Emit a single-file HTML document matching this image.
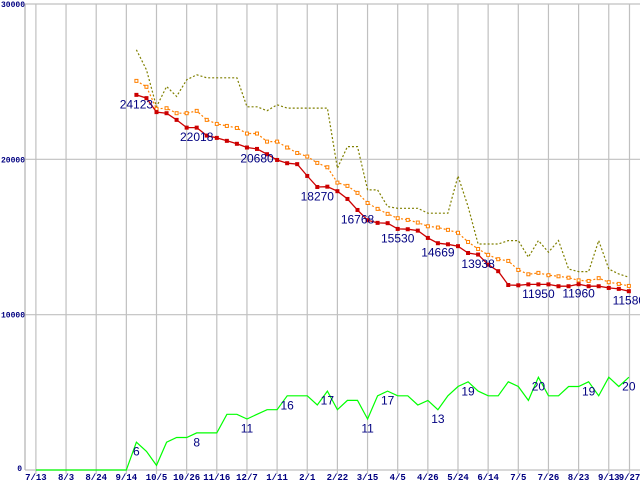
<!DOCTYPE html>
<html><head><meta charset="utf-8"><style>
html,body{margin:0;padding:0;background:#fff;}
svg{display:block;font-family:"Liberation Sans",sans-serif;}
</style></head><body>
<svg id="chart" width="640" height="480" viewBox="0 0 640 480" xmlns="http://www.w3.org/2000/svg">
<g id="grid"></g>
<g id="series"></g>
<g id="labels"></g>
</svg>
<script>
const xTickLabels=["7/13","8/3","8/24","9/14","10/5","10/26","11/16","12/7","1/11","2/1","2/22","3/15","4/5","4/26","5/24","6/14","7/5","7/26","8/23","9/13","9/27"];
const xTickIdx=[0,3,6,9,12,15,18,21,24,27,30,33,36,39,42,45,48,51,54,57,59];
const yTicks=[0,10000,20000,30000];
const yTickLabels=["0","10000","20000","30000"];
const redStart=10;
const redValues=[24150,23940,23040,22970,22540,22040,22040,21530,21380,21190,21000,20760,20670,20330,19960,19750,19690,18930,18220,18240,17950,17450,16740,16080,15910,15890,15520,15500,15410,14940,14600,14530,14410,13970,13870,13220,12800,11910,11890,11950,11950,11950,11830,11830,11960,11830,11830,11720,11660,11510];
const orangeValues=[25050,24670,23250,23290,22970,22970,23120,22540,22280,22150,22020,21660,21660,21140,21140,20760,20410,20180,19770,19490,18500,18290,17840,17190,16810,16490,16210,16100,15930,15690,15610,15460,15270,14680,14230,13850,13570,13460,12880,12600,12690,12540,12470,12380,12210,12170,12350,12090,11980,11850];
const oliveValues=[27050,25760,23380,24690,24050,25120,25440,25250,25250,25250,25250,23380,23380,23130,23510,23300,23300,23300,23300,23300,19430,20820,20820,18030,18030,16960,16850,16850,16850,16530,16530,16530,18930,16960,14550,14550,14550,14770,14770,13700,14770,14020,14770,12940,12770,12770,14770,12940,12620,12410];
const greenValues=[0,0,0,0,0,0,0,0,0,0,6,4,1,6,7,7,8,8,8,12,12,11,12,13,13,16,16,16,14,17,13,15,15,11,16,17,16,16,14,15,13,16,18,19,17,16,16,19,18,15,20,16,16,18,18,19,16,20,18,20];
const redLabelIdx=[10,16,22,28,32,36,40,44,50,54,59];
const redLabelText=["24123","22018","20680","18270","16768","15530","14669","13938","11950","11960","11580"];
const greenLabelIdx=[10,16,21,25,29,33,35,40,43,50,55,59];
const greenLabelText=["6","8","11","16","17","11","17","13","19","20","19","20"];

const NS="http://www.w3.org/2000/svg";
const X0=35.9,DX=10.05,YB=470,YT=4,YMAX=30000;
function xs(i){return X0+i*DX;}
function ys(v){return YB-(v/YMAX)*(YB-YT);}
function yg(v){return YB-v*4.64;}
function mk(tag,attrs,parent){const e=document.createElementNS(NS,tag);for(const k in attrs)e.setAttribute(k,attrs[k]);parent.appendChild(e);return e;}
const grid=document.getElementById('grid'),ser=document.getElementById('series'),lab=document.getElementById('labels');

xTickIdx.forEach((i,k)=>{
  const x=i===59?629.5:xs(i);
  const l=mk('line',{x1:x,y1:YT,x2:x,y2:474,stroke:'#c0c0c0','stroke-width':1.2},grid);
  
  
  const t=mk('text',{x:x,y:480,'text-anchor':'middle','font-size':9,'font-family':'Liberation Mono, monospace','font-weight':'bold',fill:'#000080'},grid);
  t.textContent=xTickLabels[k];
  
  
});
yTicks.forEach((v,k)=>{
  const y=ys(v);
  const l=mk('line',{x1:25,y1:y,x2:640,y2:y,stroke:'#c0c0c0','stroke-width':1.2},grid);
  
  
  const t=mk('text',{x:v===0?22:25,y:v===0?y+1:y+3,'text-anchor':'end','font-size':8,'font-family':'Liberation Mono, monospace','font-weight':'bold',fill:'#000080'},grid);
  t.textContent=yTickLabels[k];
  
  
});
const ax=mk('line',{x1:25,y1:YT,x2:25,y2:YB,stroke:'#b0b0b0','stroke-width':1.2},grid);



function pts(vals,start,fy){return vals.map((v,k)=>xs(start+k).toFixed(1)+','+fy(v).toFixed(1)).join(' ');}
const gl=mk('polyline',{points:pts(greenValues,0,yg),fill:'none',stroke:'#00ff00','stroke-width':1.2},ser);


const ol=mk('polyline',{points:pts(oliveValues,redStart,ys),fill:'none',stroke:'#808000','stroke-width':1.2,'stroke-dasharray':'2,2'},ser);


const orl=mk('polyline',{points:pts(orangeValues,redStart,ys),fill:'none',stroke:'#ff8000','stroke-width':1.2,'stroke-dasharray':'2,2'},ser);


orangeValues.forEach((v,k)=>{
  const r=mk('rect',{x:xs(redStart+k)-1.5,y:ys(v)-1.5,width:3,height:3,fill:'#fff',stroke:'#ff8000','stroke-width':1},ser);
  
  
});
const rl=mk('polyline',{points:pts(redValues,redStart,ys),fill:'none',stroke:'#cc0000','stroke-width':1.3},ser);


redValues.forEach((v,k)=>{
  const r=mk('rect',{x:xs(redStart+k)-2,y:ys(v)-2,width:4,height:4,fill:'#cc0000'},ser);
  
  
});
redLabelIdx.forEach((i,k)=>{
  const t=mk('text',{x:xs(i),y:ys(redValues[i-redStart])+13.5,'text-anchor':'middle','font-size':12,fill:'#000080'},lab);
  t.textContent=redLabelText[k];
  
  
});
greenLabelIdx.forEach((i,k)=>{
  const t=mk('text',{x:xs(i),y:yg(greenValues[i])+13.5,'text-anchor':'middle','font-size':12,fill:'#000080'},lab);
  t.textContent=greenLabelText[k];
  
  
});
</script>
</body></html>
